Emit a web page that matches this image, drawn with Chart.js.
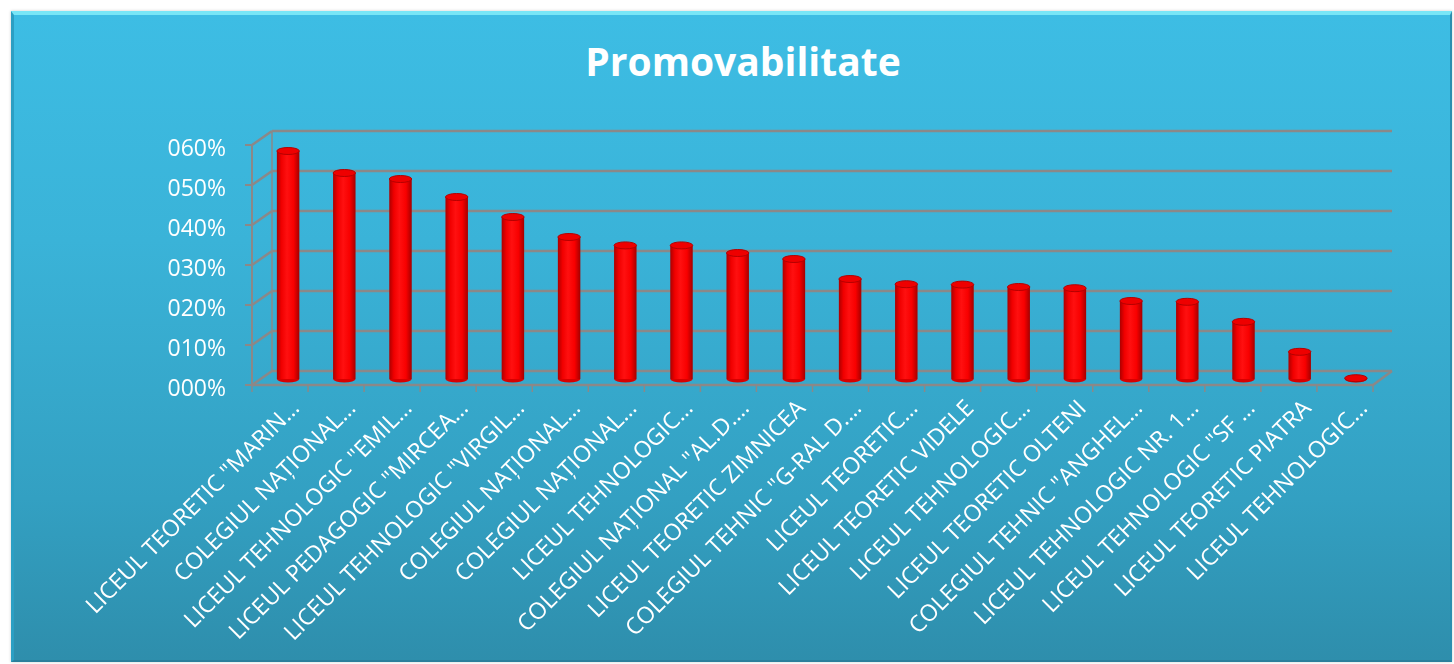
<!DOCTYPE html>
<html>
<head>
<meta charset="utf-8">
<script src="https://cdn.jsdelivr.net/npm/chart.js@4/dist/chart.umd.min.js"></script>
<style>
  html, body { margin: 0; padding: 0; background: #ffffff; }
  #wrap { position: relative; width: 1454px; height: 664px; overflow: hidden; }
  #panel {
    position: absolute; left: 11px; top: 11px; width: 1441px; height: 651px;
    box-sizing: border-box;
    background: linear-gradient(to bottom, #3dbde4 0%, #3ab3d8 35%, #33a0c2 75%, #2e8eac 100%);
    border-top: 4px solid #78e6f7;
    border-left: 3px solid #2c9fc3;
    border-right: 2px solid #2b8fb0;
    border-bottom: 2px solid #2a7f9c;
    box-shadow: 0 0 3px rgba(0,0,0,0.2);
  }
  #title {
    position: absolute; left: 0; width: 1486px; top: 35px; text-align: center;
    font-family: "Open Sans", "Noto Sans", sans-serif; font-weight: 700; font-size: 39px;
    color: #ffffff; line-height: 52px;
  }
  canvas { position: absolute; left: 0; top: 0; }
</style>
</head>
<body>
<div id="wrap">
  <div id="panel"></div>
  <div id="title">Promovabilitate</div>
  <canvas id="c" width="1454" height="664"></canvas>
</div>
<script>
const categories = [
  'LICEUL TEORETIC "MARIN…',
  'COLEGIUL NAȚIONAL…',
  'LICEUL TEHNOLOGIC "EMIL…',
  'LICEUL PEDAGOGIC "MIRCEA…',
  'LICEUL TEHNOLOGIC "VIRGIL…',
  'COLEGIUL NAȚIONAL…',
  'COLEGIUL NAȚIONAL…',
  'LICEUL TEHNOLOGIC…',
  'COLEGIUL NAȚIONAL "AL.D.…',
  'LICEUL TEORETIC ZIMNICEA',
  'COLEGIUL TEHNIC "G-RAL D.…',
  'LICEUL TEORETIC…',
  'LICEUL TEORETIC VIDELE',
  'LICEUL TEHNOLOGIC…',
  'LICEUL TEORETIC OLTENI',
  'COLEGIUL TEHNIC "ANGHEL…',
  'LICEUL TEHNOLOGIC NR. 1…',
  'LICEUL TEHNOLOGIC "SF …',
  'LICEUL TEORETIC PIATRA',
  'LICEUL TEHNOLOGIC…'
];
const promovabilitate = [0.57, 0.515, 0.50, 0.455, 0.405, 0.355, 0.334, 0.334, 0.315, 0.30,
                         0.25, 0.237, 0.236, 0.23, 0.227, 0.195, 0.193, 0.143, 0.068, 0.002];
const yTicks = [0, 0.1, 0.2, 0.3, 0.4, 0.5, 0.6];

function pctLabel(v) {
  return String(Math.round(v * 100)).padStart(3, '0') + '%';
}

const FONT = '"Open Sans", "Noto Sans", sans-serif';
const GRID = '#8b8888';

const frame3d = {
  id: 'frame3d',
  beforeDatasetsDraw(chart) {
    const { ctx, chartArea: a, scales: { y } } = chart;
    const fl = a.left - 8, fr = a.right - 11, bl = a.left + 12, br = a.right + 8;
    const fdy = 6, bdy = -8;
    ctx.save();
    ctx.strokeStyle = GRID;
    ctx.lineWidth = 2.5;
    yTicks.forEach(v => {
      const py = y.getPixelForValue(v);
      ctx.beginPath(); ctx.moveTo(bl, py + bdy); ctx.lineTo(br, py + bdy); ctx.stroke();
      ctx.beginPath(); ctx.moveTo(fl, py + fdy); ctx.lineTo(bl, py + bdy); ctx.stroke();
    });
    const y0 = y.getPixelForValue(0), yM = y.getPixelForValue(yTicks[yTicks.length - 1]);
    ctx.lineWidth = 1.5;
    ctx.beginPath(); ctx.moveTo(bl, yM + bdy); ctx.lineTo(bl, y0 + bdy); ctx.stroke();
    ctx.lineWidth = 2;
    ctx.beginPath(); ctx.moveTo(fl, yM + fdy); ctx.lineTo(fl, y0 + fdy); ctx.stroke();
    yTicks.forEach(v => {
      const py = y.getPixelForValue(v) + fdy;
      ctx.beginPath(); ctx.moveTo(fl - 7, py); ctx.lineTo(fl, py); ctx.stroke();
    });
    ctx.lineWidth = 2.5;
    ctx.beginPath(); ctx.moveTo(fl, y0 + fdy); ctx.lineTo(fr, y0 + fdy); ctx.lineTo(br, y0 + bdy); ctx.stroke();
    ctx.lineWidth = 1.5;
    const n = categories.length;
    for (let i = 0; i <= n; i++) {
      const px = fl + (fr - fl) * i / n;
      ctx.beginPath(); ctx.moveTo(px, y0 + fdy); ctx.lineTo(px, y0 + fdy + 7); ctx.stroke();
    }
    ctx.restore();
  },
  afterDatasetsDraw(chart) {
    const { ctx } = chart;
    const meta = chart.getDatasetMeta(0);
    ctx.save();
    meta.data.forEach(el => {
      const rx = el.width / 2, ry = 3.5;
      ctx.beginPath();
      ctx.ellipse(el.x, el.base, rx, ry, 0, 0, Math.PI);
      ctx.fillStyle = '#d80000';
      ctx.fill();
      ctx.beginPath();
      ctx.ellipse(el.x, el.y, rx, ry, 0, 0, Math.PI * 2);
      ctx.fillStyle = '#ee0000';
      ctx.fill();
      ctx.strokeStyle = '#b40000';
      ctx.lineWidth = 1;
      ctx.stroke();
    });
    ctx.restore();
  }
};

function barGradient(context) {
  const chart = context.chart;
  const xs = chart.scales && chart.scales.x;
  if (!xs || context.dataIndex === undefined) return '#ff0000';
  const cx = xs.getPixelForValue(context.dataIndex);
  if (!isFinite(cx)) return '#ff0000';
  const half = 11;
  const g = chart.ctx.createLinearGradient(cx - half, 0, cx + half, 0);
  g.addColorStop(0, '#b00000');
  g.addColorStop(0.2, '#f00000');
  g.addColorStop(0.45, '#ff1010');
  g.addColorStop(0.75, '#f80000');
  g.addColorStop(1, '#a80000');
  return g;
}

new Chart(document.getElementById('c'), {
  type: 'bar',
  data: {
    labels: categories,
    datasets: [{
      label: 'Promovabilitate',
      data: promovabilitate,
      backgroundColor: barGradient,
      borderWidth: 0,
      barPercentage: 0.4,
      categoryPercentage: 1.0
    }]
  },
  options: {
    responsive: false,
    animation: false,
    layout: { padding: { left: 0, right: 70, top: 139, bottom: 0 } },
    plugins: {
      legend: { display: false },
      title: { display: false },
      tooltip: { enabled: false }
    },
    scales: {
      x: {
        grid: { display: false },
        border: { display: false },
        afterFit: s => { s.height = 285; },
        ticks: {
          autoSkip: false,
          minRotation: 45,
          maxRotation: 45,
          color: '#ffffff',
          font: { family: FONT, size: 23 },
          padding: 8,
          labelOffset: 8
        }
      },
      y: {
        min: 0,
        max: 0.6,
        grid: { display: false },
        border: { display: false },
        afterFit: s => { s.width = 260; },
        afterBuildTicks: s => { s.ticks = yTicks.map(v => ({ value: v })); },
        ticks: {
          color: '#ffffff',
          font: { family: FONT, size: 23 },
          padding: 26,
          labelOffset: 10,
          callback: v => pctLabel(v)
        }
      }
    }
  },
  plugins: [frame3d]
});
</script>
</body>
</html>
